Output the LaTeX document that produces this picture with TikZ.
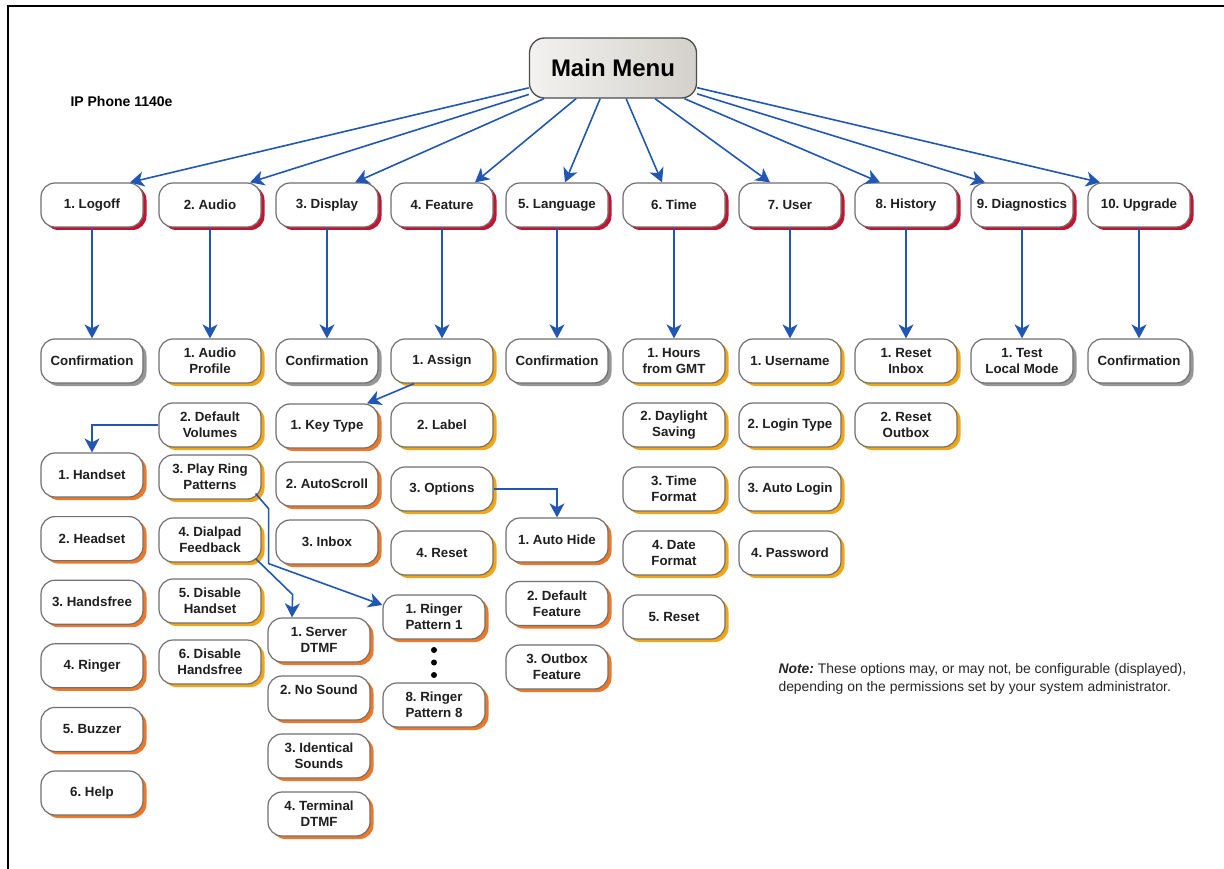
\documentclass[tikz,border=0pt]{standalone}
\usepackage{fontspec}
\setmainfont{Liberation Sans}
\usetikzlibrary{positioning,arrows.meta,shadows}
\frenchspacing

\definecolor{linkblue}{RGB}{33,87,178}
\definecolor{boxgray}{RGB}{112,112,112}
\definecolor{shred}{RGB}{196,18,48}
\definecolor{shgold}{RGB}{245,165,20}
\definecolor{shorange}{RGB}{238,120,40}
\definecolor{shgray}{RGB}{150,150,150}
\definecolor{mmleft}{RGB}{243,242,240}
\definecolor{mmright}{RGB}{212,209,204}

\tikzset{
  menubox/.style={draw=boxgray, line width=1.2pt, fill=white, rounded corners=14pt,
    minimum width=102pt, minimum height=44pt, inner sep=2pt, align=center,
    font=\fontsize{13.3}{16}\selectfont\bfseries, text=black!88},
  topbox/.style={menubox, drop shadow={shadow xshift=3.5pt, shadow yshift=-3pt, fill=shred, opacity=1}},
  subbox/.style={menubox, drop shadow={shadow xshift=3.5pt, shadow yshift=-3pt, fill=shgold, opacity=1}},
  leafbox/.style={menubox, drop shadow={shadow xshift=3.5pt, shadow yshift=-3pt, fill=shorange, opacity=1}},
  confbox/.style={menubox, drop shadow={shadow xshift=3.5pt, shadow yshift=-3pt, fill=shgray, opacity=1}},
  link/.style={draw=linkblue, line width=1.6pt, -{Stealth[length=14pt,width=15pt,inset=4pt]}},
}

\begin{document}
\begin{tikzpicture}[x=1pt, y=-1pt, node distance=64pt]
    \useasboundingbox (0,0) rectangle (1224,869);
    \draw[line width=2.5pt] (1224,6) -- (8,6) -- (8,869);

    \node(main) [draw=black!70, line width=1.3pt, rounded corners=15pt, left color=mmleft, right color=mmright,
        minimum width=167pt, minimum height=60pt, font=\fontsize{24}{26}\selectfont\bfseries] at (613,68) {Main Menu};
    \node(phone) [anchor=west, font=\fontsize{14}{16}\selectfont\bfseries] at (67,101) {IP Phone 1140e};

    \node(logoff) [topbox] at (92,205) {1. Logoff};
    \node(audio) [topbox] at (210,205) {2. Audio};
    \node(display) [topbox] at (327,205) {3. Display};
    \node(feature) [topbox] at (442,205) {4. Feature};
    \node(language) [topbox] at (557,205) {5. Language};
    \node(time) [topbox] at (674,205) {6. Time};
    \node(user) [topbox] at (790,205) {7. User};
    \node(history) [topbox] at (906,205) {8. History};
    \node(diag) [topbox] at (1022,205) {9. Diagnostics};
    \node(upgrade) [topbox] at (1139,205) {10. Upgrade};

    \draw[link] (main) -- ([xshift=38pt]logoff.north);
    \draw[link] (main) -- ([xshift=40pt]audio.north);
    \draw[link] (main) -- ([xshift=28pt]display.north);
    \draw[link] (main) -- ([xshift=33pt]feature.north);
    \draw[link] (main) -- ([xshift=8pt]language.north);
    \draw[link] (main) -- ([xshift=-12pt]time.north);
    \draw[link] (main) -- ([xshift=-20pt]user.north);
    \draw[link] (main) -- ([xshift=-26pt]history.north);
    \draw[link] (main) -- ([xshift=-37pt]diag.north);
    \draw[link] (main) -- ([xshift=-39pt]upgrade.north);

    % logoff
    \node(logconf) [confbox] at (92,361) {Confirmation};
    \draw[link] (logoff) -- (logconf);

    % audio
    \node(audprof) [subbox] at (210,361) {1. Audio\\Profile};
    \node(defvol) [subbox] at (210,425) {2. Default\\Volumes};
    \node(playring) [subbox] at (210,477) {3. Play Ring\\Patterns};
    \node(dialpad) [subbox] at (210,540) {4. Dialpad\\Feedback};
    \node(dishand) [subbox] at (210,601) {5. Disable\\Handset};
    \node(dishf) [subbox] at (210,662) {6. Disable\\Handsfree};
    \draw[link] (audio) -- (audprof);

    \node(handset) [leafbox] at (92,475) {1. Handset};
    \node(headset) [leafbox, below of=handset, node distance=63.6pt] {2. Headset};
    \node(handsfree) [leafbox, below of=headset, node distance=63.6pt] {3. Handsfree};
    \node(ringer) [leafbox, below of=handsfree, node distance=63.6pt] {4. Ringer};
    \node(buzzer) [leafbox, below of=ringer, node distance=63.6pt] {5. Buzzer};
    \node(help) [leafbox, below of=buzzer, node distance=63.6pt] {6. Help};
    \draw[link] (defvol.west) -| (handset.north);

    \node(ringer1) [leafbox] at (434,617) {1. Ringer\\Pattern 1};
    \node(ringer8) [leafbox] at (434,705) {8. Ringer\\Pattern 8};
    \foreach \dy in {650,662.5,675}
        \fill (434,\dy) circle (3pt);
    \draw[link] ([xshift=-6pt,yshift=6pt]playring.south east) -- ++(13,15) -- ++(0,55) -- ([yshift=12pt]ringer1.west);

    \node(server) [leafbox] at (319,640) {1. Server\\DTMF};
    \node(nosound) [leafbox, below of=server, node distance=58pt] {2. No Sound\\\mbox{}};
    \node(ident) [leafbox, below of=nosound, node distance=58pt] {3. Identical\\Sounds};
    \node(term) [leafbox, below of=ident, node distance=58pt] {4. Terminal\\DTMF};
    \draw[link] ([xshift=-6pt,yshift=4pt]dialpad.south east) -- ++(37,36) -- ([xshift=-27pt]server.north);

    % display
    \node(dispconf) [confbox] at (327,361) {Confirmation};
    \draw[link] (display) -- (dispconf);

    % feature
    \node(assign) [subbox] at (442,361) {1. Assign};
    \node(label) [subbox, below of=assign] {2. Label};
    \node(options) [subbox, below of=label] {3. Options};
    \node(featreset) [subbox, below of=options] {4. Reset};
    \draw[link] (feature) -- (assign);

    \node(keytype) [leafbox] at (327,426) {1. Key Type};
    \node(autoscroll) [leafbox, below of=keytype, node distance=58pt] {2. AutoScroll};
    \node(inbox) [leafbox, below of=autoscroll, node distance=58pt] {3. Inbox};
    \draw[link] ([xshift=-28pt]assign.south) -- ([xshift=40pt]keytype.north);

    \node(autohide) [leafbox] at (557,540) {1. Auto Hide};
    \node(deffeat) [leafbox, below of=autohide, node distance=63.5pt] {2. Default\\Feature};
    \node(outbox) [leafbox, below of=deffeat, node distance=63.5pt] {3. Outbox\\Feature};
    \draw[link] (options.east) -| (autohide.north);

    % language
    \node(langconf) [confbox] at (557,361) {Confirmation};
    \draw[link] (language) -- (langconf);

    % time
    \node(hours) [subbox] at (674,361) {1. Hours\\from GMT};
    \node(daylight) [subbox, below of=hours] {2. Daylight\\Saving};
    \node(timefmt) [subbox, below of=daylight] {3. Time\\Format};
    \node(datefmt) [subbox, below of=timefmt] {4. Date\\Format};
    \node(timereset) [subbox, below of=datefmt] {5. Reset};
    \draw[link] (time) -- (hours);

    % user
    \node(username) [subbox] at (790,361) {1. Username};
    \node(logintype) [subbox, below of=username] {2. Login Type};
    \node(autologin) [subbox, below of=logintype] {3. Auto Login};
    \node(password) [subbox, below of=autologin] {4. Password};
    \draw[link] (user) -- (username);

    % history
    \node(resetin) [subbox] at (906,361) {1. Reset\\Inbox};
    \node(resetout) [subbox, below of=resetin] {2. Reset\\Outbox};
    \draw[link] (history) -- (resetin);

    % diagnostics
    \node(testlocal) [confbox] at (1022,361) {1. Test\\Local Mode};
    \draw[link] (diag) -- (testlocal);

    % upgrade
    \node(upconf) [confbox] at (1139,361) {Confirmation};
    \draw[link] (upgrade) -- (upconf);

    \node(note) [anchor=north west, align=left, text=black!85, font=\fontsize{13.9}{18}\selectfont] at (775,660)
        {\textbf{\textit{Note:}} These options may, or may not, be configurable (displayed),\\
         depending on the permissions set by your system administrator.};
\end{tikzpicture}
\end{document}
